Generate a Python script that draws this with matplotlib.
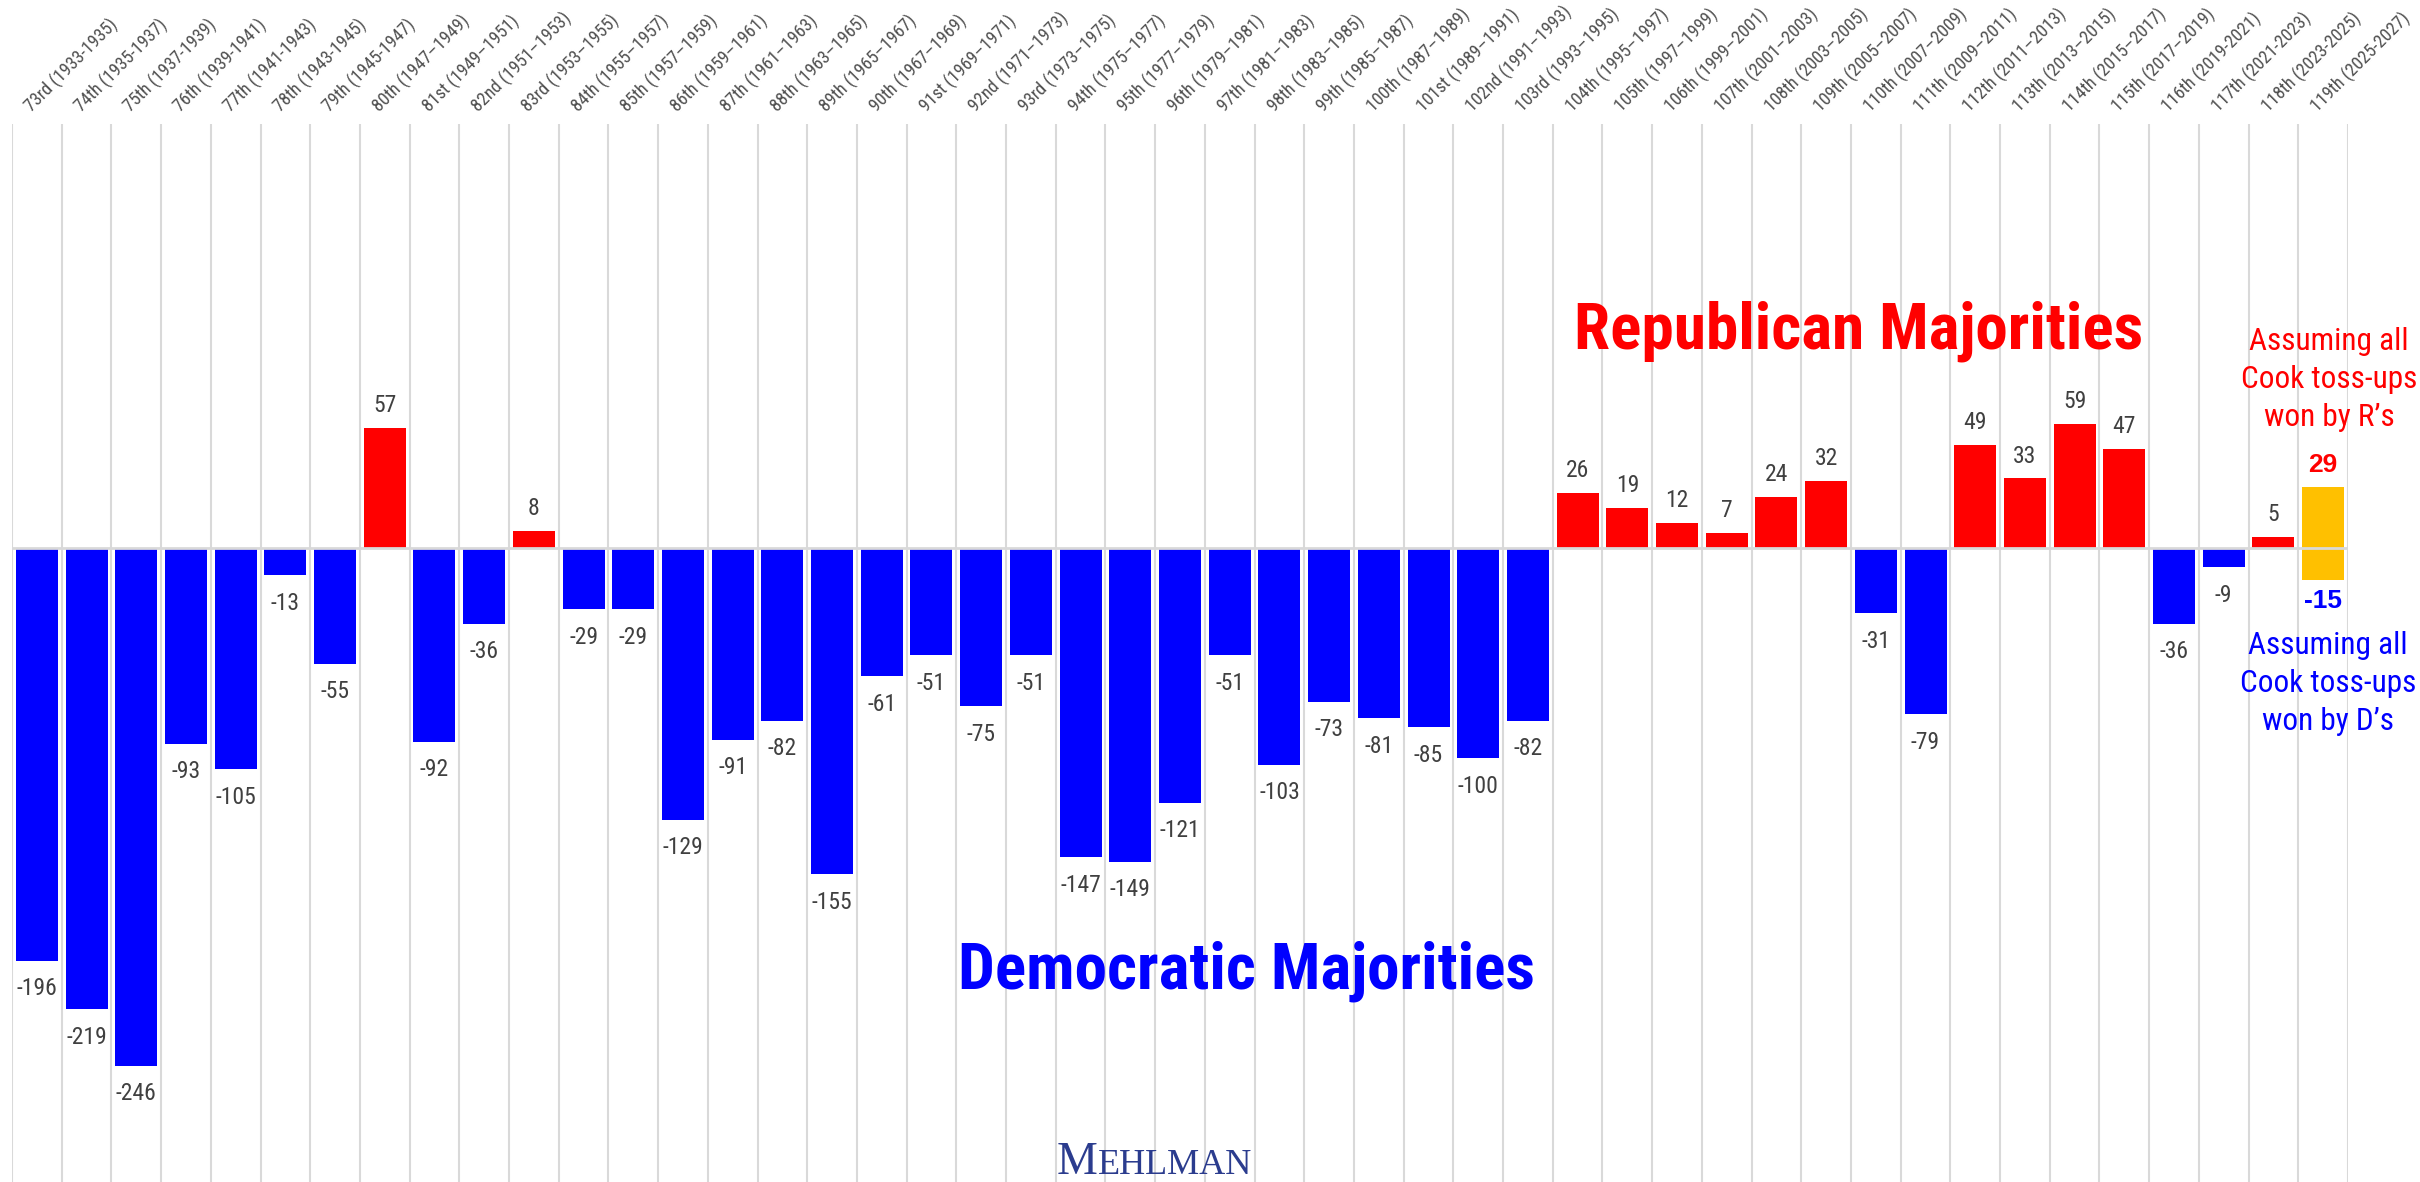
import matplotlib
matplotlib.use("Agg")
import matplotlib.pyplot as plt
from matplotlib import font_manager
from matplotlib.font_manager import FontProperties

# ---------------- data ----------------
congress_labels = [
    "73rd (1933-1935)", "74th (1935-1937)", "75th (1937-1939)", "76th (1939-1941)",
    "77th (1941-1943)", "78th (1943-1945)", "79th (1945-1947)", "80th (1947–1949)",
    "81st (1949–1951)", "82nd (1951–1953)", "83rd (1953–1955)", "84th (1955–1957)",
    "85th (1957–1959)", "86th (1959–1961)", "87th (1961–1963)", "88th (1963–1965)",
    "89th (1965–1967)", "90th (1967–1969)", "91st (1969–1971)", "92nd (1971–1973)",
    "93rd (1973–1975)", "94th (1975–1977)", "95th (1977–1979)", "96th (1979–1981)",
    "97th (1981–1983)", "98th (1983–1985)", "99th (1985–1987)", "100th (1987–1989)",
    "101st (1989–1991)", "102nd (1991–1993)", "103rd (1993–1995)", "104th (1995–1997)",
    "105th (1997–1999)", "106th (1999–2001)", "107th (2001–2003)", "108th (2003–2005)",
    "109th (2005–2007)", "110th (2007–2009)", "111th (2009–2011)", "112th (2011–2013)",
    "113th (2013–2015)", "114th (2015–2017)", "115th (2017–2019)", "116th (2019-2021)",
    "117th (2021-2023)", "118th (2023-2025)", "119th (2025-2027)",
]
margins = [
    -196, -219, -246, -93, -105, -13, -55, 57, -92, -36,
    8, -29, -29, -129, -91, -82, -155, -61, -51, -75,
    -51, -147, -149, -121, -51, -103, -73, -81, -85, -100,
    -82, 26, 19, 12, 7, 24, 32, -31, -79, 49,
    33, 59, 47, -36, -9, 5,
]
tossup_r = 29   # 119th, all toss-ups won by R's
tossup_d = -15  # 119th, all toss-ups won by D's

# ---------------- fonts ----------------
def _wt(w):
    if isinstance(w, (int, float)):
        return int(w)
    return {"normal": 400, "regular": 400, "book": 400, "medium": 500,
            "bold": 700, "semibold": 600, "demibold": 600}.get(str(w).lower(), 400)

def _is_narrow(f):
    nm = f.name.lower()
    st = str(f.stretch).lower()
    fn = f.fname.lower()
    return ("narrow" in nm or "condensed" in nm or st in ("condensed", "semi-condensed")
            or "narrow" in fn or ("condensed" in fn and "semicondensed" not in fn
                                  and "extracondensed" not in fn))

def _prio(f):
    nm = f.name.lower() + " " + f.fname.lower()
    order = ["liberation sans narrow", "liberationsansnarrow", "arial narrow", "arimo",
             "roboto condensed", "robotocondensed", "notosans-condensed",
             "dejavusanscondensed", "dejavu sans condensed", "open sans condensed"]
    for i, o in enumerate(order):
        if o in nm:
            return i
    return 50

narrow_reg = None
narrow_bold = None
cands = [f for f in font_manager.fontManager.ttflist
         if _is_narrow(f) and str(f.style) == "normal" and "mono" not in f.name.lower()
         and "serif" not in f.name.lower()]
cands.sort(key=_prio)
for f in cands:
    if narrow_reg is None and _wt(f.weight) == 400:
        narrow_reg = f.fname
    if narrow_bold is None and _wt(f.weight) == 700:
        narrow_bold = f.fname

SCALE = 1.0
if narrow_reg is None:
    FP_REG = FontProperties(family="Liberation Sans")
    SCALE = 0.82
else:
    FP_REG = FontProperties(fname=narrow_reg)
if narrow_bold is None:
    FP_BOLD = FontProperties(family="Liberation Sans", weight="bold")
    BSCALE = 0.82
else:
    FP_BOLD = FontProperties(fname=narrow_bold)
    BSCALE = 1.0

def fpr(size):
    p = FP_REG.copy()
    p.set_size(size * SCALE)
    return p

def fpb(size):
    p = FP_BOLD.copy()
    p.set_size(size * BSCALE)
    return p

SANS = "Liberation Sans"
SERIF = "Liberation Serif"

RED = "#FF0000"
BLUE = "#0000FF"
GOLD = "#FFC000"
GRID = "#D9D9D9"
LABEL = "#404040"
TICK = "#505050"

W, H = 2420, 1182
fig = plt.figure(figsize=(W / 100, H / 100), dpi=100)
fig.patch.set_facecolor("white")

def fx(px):
    return px / W

def fy(py):
    return 1 - py / H

ax_left, ax_right, ax_top = 12, 2348, 124
ax = fig.add_axes([fx(ax_left), 0, fx(ax_right - ax_left), 1 - ax_top / H])
n = len(congress_labels)
ax.set_xlim(-0.5, n - 0.5)
ax.set_ylim(-301.2, 201.4)
for s in ax.spines.values():
    s.set_visible(False)
ax.set_xticks([])
ax.set_yticks([])

# vertical category separators
for b in range(n + 1):
    ax.axvline(b - 0.5, color=GRID, lw=1.5, zorder=0)

bw = 0.845
xs = list(range(len(margins)))
cols = [RED if v > 0 else BLUE for v in margins]
ax.bar(xs, margins, width=bw, color=cols, zorder=2, linewidth=0)

# toss-up range bar for the 119th
ix = n - 1
ax.bar([ix], [tossup_r - tossup_d], bottom=[tossup_d], width=bw, color=GOLD,
       zorder=2, linewidth=0)

ax.axhline(0, color=GRID, lw=2.0, zorder=3)

# value labels
for x, v in zip(xs, margins):
    if v > 0:
        ax.annotate(str(v), (x, v), xytext=(0, 11.5), textcoords="offset points",
                    ha="center", va="baseline", color=LABEL, fontproperties=fpr(17))
    else:
        ax.annotate(str(v), (x, v), xytext=(0, -12), textcoords="offset points",
                    ha="center", va="top", color=LABEL, fontproperties=fpr(17))

ax.annotate(str(tossup_r), (ix, tossup_r), xytext=(0, 11), textcoords="offset points",
            ha="center", va="baseline", fontsize=19, color=RED,
            family=SANS, fontweight="bold")
ax.annotate(str(tossup_d), (ix, tossup_d), xytext=(0, -7), textcoords="offset points",
            ha="center", va="top", fontsize=19, color=BLUE,
            family=SANS, fontweight="bold")

# top category labels
for i, lab in enumerate(congress_labels):
    ax.annotate(lab, (i, 1), xycoords=("data", "axes fraction"),
                xytext=(-3.5, 8), textcoords="offset points",
                ha="left", va="baseline", rotation=45, rotation_mode="anchor",
                color=TICK, fontproperties=fpr(13), annotation_clip=False)

# big annotations
fig.text(fx(1859), fy(349), "Republican Majorities", ha="center", va="baseline",
         color=RED, fontproperties=fpb(47))
fig.text(fx(1246), fy(989), "Democratic Majorities", ha="center", va="baseline",
         color=BLUE, fontproperties=fpb(47))

r_lines = ["Assuming all", "Cook toss-ups", "won by R\u2019s"]
d_lines = ["Assuming all", "Cook toss-ups", "won by D\u2019s"]
for k, t in enumerate(r_lines):
    fig.text(fx(2329), fy(350 + 38 * k), t, ha="center", va="baseline",
             color=RED, fontproperties=fpr(22.5))
for k, t in enumerate(d_lines):
    fig.text(fx(2328), fy(654 + 38 * k), t, ha="center", va="baseline",
             color=BLUE, fontproperties=fpr(22.5))

# logo
NAVY = "#2B3C8E"
fig.text(fx(1097), fy(1174), "M", ha="right", va="baseline", fontsize=33,
         color=NAVY, family=SERIF)
fig.text(fx(1098), fy(1174), "EHLMAN", ha="left", va="baseline", fontsize=26,
         color=NAVY, family=SERIF)

fig.savefig("out.png", dpi=100, facecolor="white")
